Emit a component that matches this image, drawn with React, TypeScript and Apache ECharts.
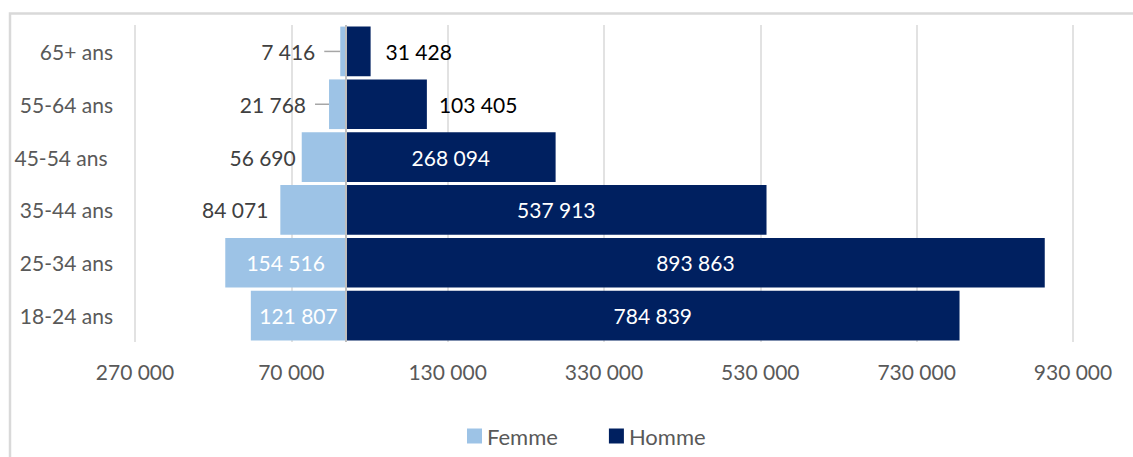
import React, { useEffect, useRef } from 'react';
import * as echarts from 'echarts';

const categories = ['18-24 ans', '25-34 ans', '35-44 ans', '45-54 ans ', '55-64 ans', '65+ ans'];
const femme = [121807, 154516, 84071, 56690, 21768, 7416];
const homme = [784839, 893863, 537913, 268094, 103405, 31428];
// how each value label is placed: inside the bar, outside it, or outside with a leader line
const femmeLabelMode = ['inside', 'inside', 'outside', 'outside', 'leader', 'leader'];
const hommeLabelMode = ['inside', 'inside', 'inside', 'inside', 'outside', 'outside'];
const axisMin = -270000;
const axisMax = 930000;
const axisStep = 200000;

const FONT = 'Lato, "Open Sans", sans-serif';
const FS = 21;

const fmt = (v: number) => String(Math.abs(Math.round(v))).replace(/\B(?=(\d{3})+(?!\d))/g, ' ');

export default function App() {
  const ref = useRef<HTMLDivElement>(null);
  useEffect(() => {
    if (!ref.current) return;
    const chart = echarts.init(ref.current, undefined, { renderer: 'svg' });

    const femmeData = femme.map((v, i) => {
      const mode = femmeLabelMode[i];
      const item: any = { value: -v };
      if (mode === 'inside') {
        item.label = { position: 'inside', color: '#ffffff' };
      } else if (mode === 'outside') {
        item.label = { position: 'left', color: '#404040', distance: i === 2 ? 12 : 6 };
      } else {
        item.label = {
          position: 'left',
          distance: 0,
          formatter: (p: any) => `{t|${fmt(p.value)}}{s|}`,
          rich: {
            t: { color: '#404040', fontSize: FS, fontFamily: FONT },
            s: { width: 9, height: 10 },
          },
        };
        item.labelLine = { show: true, lineStyle: { color: '#a6a6a6', width: 1.5 } };
      }
      return item;
    });

    const hommeData = homme.map((v, i) => {
      const mode = hommeLabelMode[i];
      const item: any = { value: v };
      if (mode === 'inside') {
        item.label = { position: 'inside', color: '#ffffff' };
      } else {
        item.label = { position: 'right', color: '#000000', distance: i === 5 ? 15 : 12 };
      }
      return item;
    });

    chart.setOption({
      animation: false,
      textStyle: { fontFamily: FONT },
      graphic: [
        {
          type: 'rect',
          shape: { x: 10, y: 13.5, width: 1150, height: 470 },
          style: { fill: 'none', stroke: '#d9d9d9', lineWidth: 2.5 },
          silent: true,
          z: -1,
        },
      ],
      legend: {
        top: 420,
        left: 462,
        icon: 'rect',
        itemWidth: 15,
        itemHeight: 15,
        itemGap: 51,
        textStyle: { color: '#595959', fontSize: 22, fontFamily: FONT },
        data: ['Femme', 'Homme'],
      },
      grid: { left: 135, right: 60, top: 25, bottom: 115 },
      xAxis: {
        type: 'value',
        min: axisMin,
        max: axisMax,
        interval: axisStep,
        axisLine: { show: false },
        axisTick: { show: false },
        splitLine: { show: true, lineStyle: { color: '#d9d9d9', width: 1.5 } },
        axisLabel: {
          color: '#595959',
          fontSize: FS,
          fontFamily: FONT,
          margin: 19,
          formatter: (v: number) => fmt(v),
        },
      },
      yAxis: {
        type: 'category',
        data: categories,
        axisLine: { show: false },
        axisTick: { show: false },
        axisLabel: {
          color: '#595959',
          fontSize: FS,
          fontFamily: FONT,
          margin: 22,
          formatter: (s: string) => s.replace(/ $/, '\u00a0'),
        },
      },
      series: [
        {
          name: 'Femme',
          type: 'bar',
          stack: 'pop',
          barCategoryGap: '6%',
          itemStyle: { color: '#9dc3e6' },
          label: {
            show: true,
            fontSize: FS,
            fontFamily: FONT,
            formatter: (p: any) => fmt(p.value),
          },
          labelLayout: (p: any) =>
            p.dataIndex === 5 ? { dx: -16 } : p.dataIndex === 4 ? { dx: -14 } : {},
          data: femmeData,
        },
        {
          name: 'Homme',
          type: 'bar',
          stack: 'pop',
          barCategoryGap: '6%',
          itemStyle: { color: '#002060' },
          label: {
            show: true,
            fontSize: FS,
            fontFamily: FONT,
            formatter: (p: any) => fmt(p.value),
          },
          markLine: {
            silent: true,
            symbol: 'none',
            label: { show: false },
            lineStyle: { color: '#bfbfbf', width: 2, type: 'solid' },
            data: [{ xAxis: 0 }],
          },
          data: hommeData,
        },
      ],
    });
    return () => chart.dispose();
  }, []);
  return (
    <div
      ref={ref}
      style={{ position: 'fixed', left: 0, top: 0, width: 1133, height: 457, background: '#ffffff' }}
    />
  );
}
